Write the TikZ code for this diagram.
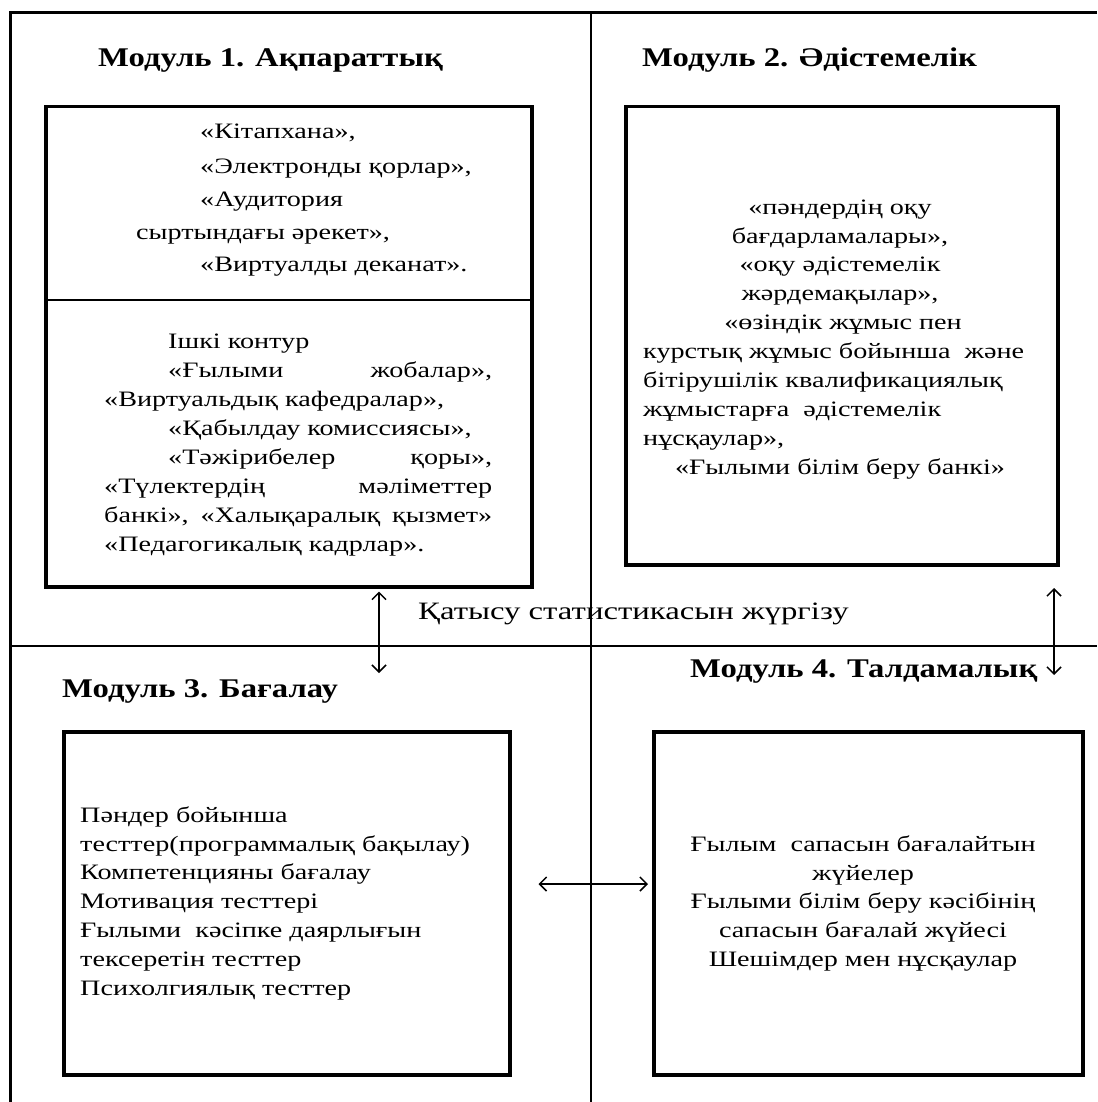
\documentclass[tikz,border=0pt]{standalone}
\usepackage{fontspec}
\setmainfont{Liberation Serif}
\newfontfamily\bodyfont[FakeStretch=1.28]{Liberation Serif}
\newfontfamily\titlefont[FakeStretch=1.21]{Liberation Serif}
\newfontfamily\lblfont[FakeStretch=1.31]{Liberation Serif}
\usetikzlibrary{arrows.meta}
\tikzset{
  frame/.style={line width=3pt},
  divider/.style={line width=1.4pt},
  modbox/.style={line width=3.5pt},
  title/.style={font=\titlefont\fontsize{27}{32}\selectfont\bfseries, inner sep=0pt},
  txt/.style={font=\bodyfont\fontsize{22}{29}\selectfont, inner sep=0pt},
  lbl/.style={font=\lblfont\fontsize{25}{30}\selectfont, inner sep=0pt},
  link/.style={line width=1.5pt, {Straight Barb[length=7pt,width=14pt]}-{Straight Barb[length=7pt,width=14pt]}},
}
\begin{document}
\begin{tikzpicture}[x=1pt,y=-1pt]
\useasboundingbox (0,0) rectangle (1097,1102);
% outer frame (cut on right and bottom)
\draw[frame] (10,1102) -- (10,13) -- (1097,13);
% dividers
\draw[divider] (591,13) -- (591,1102);
\draw[divider] (10,646) -- (1097,646);

% boxes
\node[modbox, draw, minimum width=486pt, minimum height=480pt, anchor=north west] (b1) at (44,105) {};
\draw[divider] (b1.west |- 0,300) -- (b1.east |- 0,300);
\node[modbox, draw, minimum width=432pt, minimum height=458pt, anchor=north west] (b2) at (624,105) {};
\node[modbox, draw, minimum width=446pt, minimum height=343pt, anchor=north west] (b3) at (62,730) {};
\node[modbox, draw, minimum width=429pt, minimum height=343pt, anchor=north west] (b4) at (652,730) {};

% titles
\node[title, anchor=base west] (m1) at (98,67) {Модуль 1. Ақпараттық};
\node[title, anchor=base west] (m2) at (642,67) {Модуль 2. Әдістемелік};
\node[title, anchor=base west] (m3) at (62,697) {Модуль 3. Бағалау};
\node[title, anchor=base west] (m4) at (690,677) {Модуль 4. Талдамалық};

% box 1 upper
\node[txt, anchor=base west] (t1a) at (200,139) {«Кітапхана»,};
\node[txt, anchor=base west] (t1b) at (200,174) {«Электронды қорлар»,};
\node[txt, anchor=base west] (t1c) at (200,207) {«Аудитория};
\node[txt, anchor=base west] (t1d) at (136,239) {сыртындағы әрекет»,};
\node[txt, anchor=base west] (t1e) at (200,271) {«Виртуалды деканат».};
% box 1 lower
\node[txt, anchor=base west] (t1f) at (168,348) {Ішкі контур};
\node[txt, anchor=base west, text width=324pt] (t1g) at (168,377) {«Ғылыми\hfill жобалар»,};
\node[txt, anchor=base west] (t1h) at (104,406) {«Виртуальдық кафедралар»,};
\node[txt, anchor=base west] (t1i) at (168,435) {«Қабылдау комиссиясы»,};
\node[txt, anchor=base west, text width=324pt] (t1j) at (168,464) {«Тәжірибелер\hfill қоры»,};
\node[txt, anchor=base west, text width=388pt] (t1k) at (104,493) {«Түлектердің\hfill мәліметтер};
\node[txt, anchor=base west, text width=388pt] (t1l) at (104,522) {банкі»,\hfill «Халықаралық\hfill қызмет»};
\node[txt, anchor=base west] (t1m) at (104,551) {«Педагогикалық кадрлар».};

% box 2
\node[txt, anchor=base] (t2a) at (840,214) {«пәндердің оқу};
\node[txt, anchor=base] (t2b) at (840,243) {бағдарламалары»,};
\node[txt, anchor=base] (t2c) at (840,271) {«оқу әдістемелік};
\node[txt, anchor=base] (t2d) at (840,300) {жәрдемақылар»,};
\node[txt, anchor=base] (t2e) at (843,329) {«өзіндік жұмыс пен};
\node[txt, anchor=base west] (t2f) at (643,358) {курстық жұмыс бойынша\ \ және};
\node[txt, anchor=base west] (t2g) at (643,387) {бітірушілік квалификациялық};
\node[txt, anchor=base west] (t2h) at (643,416) {жұмыстарға\ \ әдістемелік};
\node[txt, anchor=base west] (t2i) at (643,445) {нұсқаулар»,};
\node[txt, anchor=base] (t2j) at (840,474) {«Ғылыми\ білім беру банкі»};

% box 3
\node[txt, anchor=base west] (t3a) at (80,822) {Пәндер бойынша};
\node[txt, anchor=base west] (t3b) at (80,851) {тесттер(программалық бақылау)};
\node[txt, anchor=base west] (t3c) at (80,879) {Компетенцияны бағалау};
\node[txt, anchor=base west] (t3d) at (80,908) {Мотивация тесттері};
\node[txt, anchor=base west] (t3e) at (80,937) {Ғылыми\ \ кәсіпке даярлығын};
\node[txt, anchor=base west] (t3f) at (80,966) {тексеретін тесттер};
\node[txt, anchor=base west] (t3g) at (80,995) {Психолгиялық тесттер};

% box 4
\node[txt, anchor=base] (t4a) at (863,851) {Ғылым\ \ сапасын бағалайтын};
\node[txt, anchor=base] (t4b) at (863,880) {жүйелер};
\node[txt, anchor=base] (t4c) at (863,908) {Ғылыми\ білім беру кәсібінің};
\node[txt, anchor=base] (t4d) at (863,937) {сапасын бағалай жүйесі};
\node[txt, anchor=base] (t4e) at (863,966) {Шешімдер мен нұсқаулар};

% label
\node[lbl, anchor=base west] (stat) at (418,619) {Қатысу статистикасын жүргізу};

% connectors
\coordinate (a1) at (379,673);
\coordinate (a2t) at (1054,588);
\coordinate (a2b) at (1054,675);
\draw[link] (b1.south -| a1) ++(0,3) -- (a1);
\draw[link] (a2t) -- (a2b);
\draw[link] ([xshift=27pt]b3.east |- 0,884) -- ([xshift=-4pt]b4.west |- 0,884);
\end{tikzpicture}
\end{document}
